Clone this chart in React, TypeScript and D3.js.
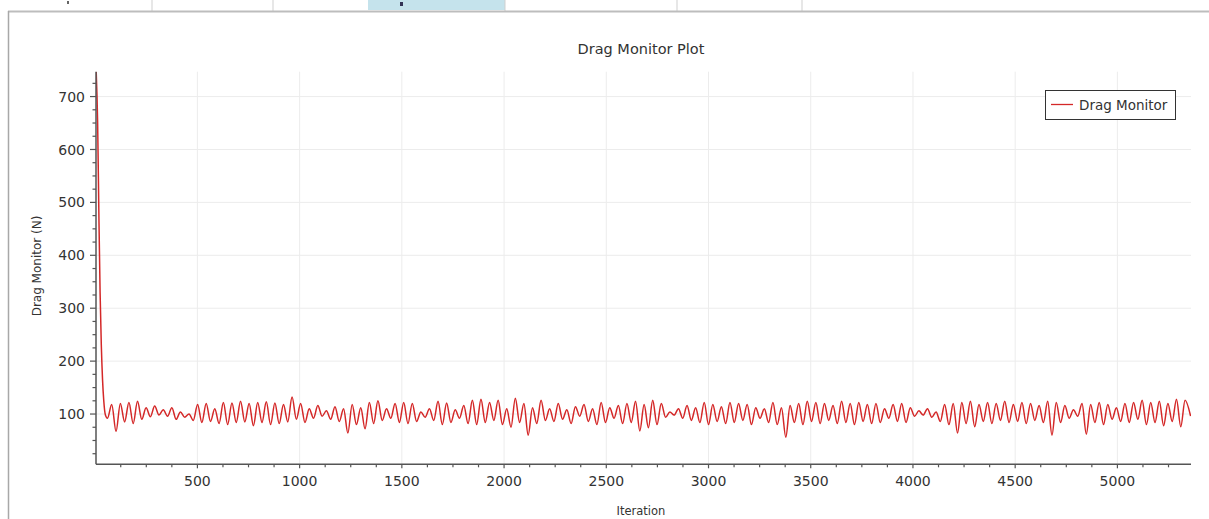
import React from "react";
import * as d3 from "d3";

// ---- data ----
const title = "Drag Monitor Plot";
const xLabel = "Iteration";
const yLabel = "Drag Monitor (N)";
const seriesName = "Drag Monitor";

const xTicks = [500, 1000, 1500, 2000, 2500, 3000, 3500, 4000, 4500, 5000];
const yTicks = [100, 200, 300, 400, 500, 600, 700];

// initial transient (iteration, value)
const spikeIter = [5, 12, 18, 24, 30, 36, 42, 50];
const spikeVal = [747, 650, 480, 330, 230, 165, 125, 98];

// oscillating part: alternating trough/peak values every 21 iterations from iteration 60
const oscStart = 60;
const oscStep = 21;
const oscVals = [
  92, 118, 67, 120, 85, 122, 82, 124, 90, 112, 95, 115, 98, 108, 96, 112, 90, 104, 94, 100,
  88, 118, 84, 120, 86, 110, 82, 122, 80, 121, 84, 124, 85, 120, 78, 122, 84, 123, 80, 121,
  82, 118, 85, 132, 90, 120, 84, 110, 92, 116, 96, 106, 90, 114, 86, 110, 64, 118, 80, 112,
  72, 122, 82, 125, 88, 110, 92, 120, 84, 122, 82, 120, 86, 104, 94, 110, 88, 124, 80, 121,
  84, 108, 92, 116, 82, 126, 80, 128, 84, 122, 88, 126, 80, 110, 75, 130, 84, 120, 60, 112,
  82, 126, 88, 110, 86, 120, 90, 108, 82, 114, 96, 118, 86, 110, 80, 122, 84, 112, 92, 116,
  82, 120, 84, 124, 68, 118, 74, 126, 80, 120, 94, 104, 98, 110, 92, 116, 88, 112, 84, 122,
  80, 118, 86, 114, 82, 122, 84, 120, 88, 118, 80, 112, 92, 110, 84, 122, 80, 112, 56, 116,
  84, 120, 80, 124, 86, 122, 82, 120, 88, 116, 82, 124, 84, 120, 80, 122, 86, 118, 82, 120,
  84, 110, 92, 118, 86, 120, 84, 112, 96, 106, 98, 110, 94, 104, 86, 118, 80, 120, 64, 122,
  82, 124, 76, 118, 86, 122, 82, 120, 88, 124, 84, 118, 86, 122, 82, 120, 88, 116, 84, 124,
  60, 122, 84, 116, 92, 108, 96, 120, 62, 118, 84, 122, 80, 118, 90, 112, 86, 120, 84, 122,
  90, 126, 80, 122, 84, 124, 78, 120, 86, 128, 76, 126,
];
const endIter = 5358;
const endVal = 96;

type P = [number, number];
const points: P[] = [
  ...spikeIter.map((it, i) => [it, spikeVal[i]] as P),
  ...oscVals.map((v, i) => [oscStart + i * oscStep, v] as P),
  [endIter, endVal],
];

// ---- layout ----
const W = 1209;
const H = 519;
const left = 96;
const right = 1191;
const top = 71.7;
const bottom = 464.3;

const FONT = "'DejaVu Sans', Verdana, sans-serif";

export default function App() {
  const x = d3.scaleLinear().domain([4, 5360]).range([left, right]);
  const y = d3.scaleLinear().domain([5, 747]).range([bottom, top]);

  const line = d3
    .line<P>()
    .x((d) => x(d[0]))
    .y((d) => y(d[1]))
    .curve(d3.curveMonotoneX);

  const xMinor = d3.range(125, 5360, 125).filter((v) => v % 500 !== 0);
  const yMinor = d3.range(25, 747, 25).filter((v) => v % 100 !== 0);

  const axisColor = "#555";
  const textColor = "#333";
  const gridColor = "#ececec";

  const tabSeps = [152, 273, 505, 677, 802];

  return (
    <svg
      width={W}
      height={H}
      style={{ position: "absolute", left: 0, top: 0, background: "#fff" }}
    >
      {/* window chrome */}
      <rect x={368} y={0} width={137} height={10} fill="#c5e3ec" />
      {tabSeps.map((sx) => (
        <line key={sx} x1={sx} x2={sx} y1={0} y2={11} stroke="#cfcfcf" strokeWidth={1} />
      ))}
      <rect x={67} y={1} width={2} height={3} fill="#666" />
      <rect x={400} y={2} width={3} height={4} fill="#335" />
      <line x1={8} x2={W} y1={11.5} y2={11.5} stroke="#bdbdbd" strokeWidth={2} />
      <line x1={8.5} x2={8.5} y1={11} y2={H} stroke="#a8a8a8" strokeWidth={1.5} />

      {/* title */}
      <text
        x={641}
        y={53.5}
        textAnchor="middle"
        fontFamily={FONT}
        fontSize={14.5}
        fill={textColor}
      >
        {title}
      </text>

      {/* grid */}
      {xTicks.map((t) => (
        <line key={"gx" + t} x1={x(t)} x2={x(t)} y1={top} y2={bottom} stroke={gridColor} strokeWidth={1} />
      ))}
      {yTicks.map((t) => (
        <line key={"gy" + t} x1={left} x2={right} y1={y(t)} y2={y(t)} stroke={gridColor} strokeWidth={1} />
      ))}

      {/* data line */}
      <defs>
        <clipPath id="plotClip">
          <rect x={left} y={top} width={right - left} height={bottom - top} />
        </clipPath>
      </defs>
      <path
        d={line(points) || ""}
        fill="none"
        stroke="#d42828"
        strokeWidth={1.5}
        strokeLinejoin="round"
        clipPath="url(#plotClip)"
      />

      {/* axes */}
      <line x1={left} x2={left} y1={top} y2={bottom} stroke={axisColor} strokeWidth={1.5} />
      <line x1={left} x2={right} y1={bottom} y2={bottom} stroke={axisColor} strokeWidth={1.5} />

      {yTicks.map((t) => (
        <g key={"yt" + t}>
          <line x1={left - 6} x2={left} y1={y(t)} y2={y(t)} stroke={axisColor} strokeWidth={1.2} />
          <text
            x={left - 11}
            y={y(t)}
            dy="0.36em"
            textAnchor="end"
            fontFamily={FONT}
            fontSize={14}
            fill={textColor}
          >
            {t}
          </text>
        </g>
      ))}
      {yMinor.map((t) => (
        <line key={"ym" + t} x1={left - 3.5} x2={left} y1={y(t)} y2={y(t)} stroke={axisColor} strokeWidth={1.2} />
      ))}

      {xTicks.map((t) => (
        <g key={"xt" + t}>
          <line x1={x(t)} x2={x(t)} y1={bottom} y2={bottom + 4} stroke={axisColor} strokeWidth={1.2} />
          <text
            x={x(t)}
            y={485.5}
            textAnchor="middle"
            fontFamily={FONT}
            fontSize={14}
            fill={textColor}
          >
            {t}
          </text>
        </g>
      ))}
      {xMinor.map((t) => (
        <line key={"xm" + t} x1={x(t)} x2={x(t)} y1={bottom} y2={bottom + 3} stroke={axisColor} strokeWidth={1.2} />
      ))}

      {/* axis labels */}
      <text
        x={641}
        y={515}
        textAnchor="middle"
        fontFamily={FONT}
        fontSize={11.5}
        fill={textColor}
      >
        {xLabel}
      </text>
      <text
        transform={`translate(41, 266) rotate(-90)`}
        textAnchor="middle"
        fontFamily={FONT}
        fontSize={12}
        fill={textColor}
      >
        {yLabel}
      </text>

      {/* legend */}
      <rect x={1045.5} y={90.5} width={130} height={29} fill="#fff" stroke="#333" strokeWidth={1} />
      <line x1={1051} x2={1073} y1={104.5} y2={104.5} stroke="#d42828" strokeWidth={1.3} />
      <text x={1079} y={109.5} fontFamily={FONT} fontSize={13.5} fill={textColor}>
        {seriesName}
      </text>
    </svg>
  );
}
